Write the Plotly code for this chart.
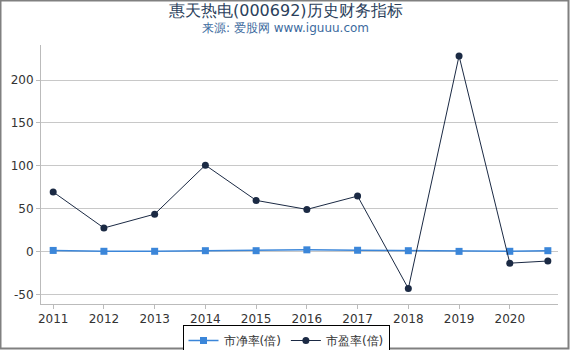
import plotly.graph_objects as go

years = [2011, 2012, 2013, 2014, 2015, 2016, 2017, 2018, 2019, 2020, 2020.75]
pb = [1.8, 0.8, 0.8, 1.5, 1.5, 2.5, 2.0, 1.5, 0.7, 0.8, 1.5]
pe = [69.8, 27.9, 44.0, 101.0, 60.0, 49.5, 65.0, -42.5, 228.0, -13.0, -10.5]
tick_years = [2011, 2012, 2013, 2014, 2015, 2016, 2017, 2018, 2019, 2020]
y_ticks = [-50, 0, 50, 100, 150, 200]
y_tick_text = ["-50", "0", "50", "100", "150", "200"]

L, R, T, B = 41, 12, 45, 46
W, H = 570, 350
pw, ph = W - L - R, H - T - B

fig = go.Figure()
fig.add_trace(go.Scatter(
    x=years, y=pb, name="市净率(倍)", mode="lines+markers",
    line=dict(color="#3b86d9", width=1.5),
    marker=dict(symbol="square", size=7, color="#3b86d9"),
))
fig.add_trace(go.Scatter(
    x=years, y=pe, name="市盈率(倍)", mode="lines+markers",
    line=dict(color="#1b2a44", width=1),
    marker=dict(symbol="circle", size=7, color="#1b2a44"),
))

fig.update_layout(
    width=W, height=H,
    margin=dict(l=L, r=R, t=T, b=B, autoexpand=False),
    paper_bgcolor="white", plot_bgcolor="white",
    font=dict(family="DejaVu Sans", size=12, color="#333333"),
    showlegend=True,
    legend=dict(
        orientation="h", xref="container", yref="container",
        x=286 / W, xanchor="center",
        y=1 - 325 / H, yanchor="top",
        bordercolor="#000000", borderwidth=1,
        font=dict(size=12, color="#333333"),
        itemwidth=30, tracegroupgap=0,
    ),
    xaxis=dict(
        range=[2010.76, 2020.95], tickmode="array", tickvals=tick_years,
        ticktext=[str(y) for y in tick_years],
        showgrid=False, showline=True, linecolor="#bbbbbb", linewidth=1,
        ticks="outside", ticklen=4, tickcolor="#bbbbbb",
        zeroline=False, tickfont=dict(size=12, color="#333333"),
    ),
    yaxis=dict(
        range=[-60.5, 240.7], tickmode="array", tickvals=y_ticks,
        ticktext=y_tick_text,
        showgrid=True, gridcolor="#c8c8c8", gridwidth=1,
        showline=True, linecolor="#bbbbbb", linewidth=1,
        ticks="outside", ticklen=4, tickcolor="#bbbbbb",
        zeroline=False, tickfont=dict(size=12, color="#333333"),
    ),
    annotations=[
        dict(text="惠天热电(000692)历史财务指标", xref="paper", yref="paper",
             x=(285 - L) / pw, y=(H - B - 10) / ph, xanchor="center", yanchor="middle",
             showarrow=False, font=dict(size=16, color="#2b3f5c", family="DejaVu Sans")),
        dict(text="来源: 爱股网 www.iguuu.com", xref="paper", yref="paper",
             x=(285 - L) / pw, y=(H - B - 28) / ph, xanchor="center", yanchor="middle",
             showarrow=False, font=dict(size=12, color="#3c6a9e", family="DejaVu Sans")),
    ],
    shapes=[
        dict(type="rect", xref="paper", yref="paper",
             x0=(0.5 - L) / pw, x1=(568.5 - L) / pw,
             y0=(H - B - 348.5) / ph, y1=(H - B - 0.5) / ph,
             line=dict(color="#808080", width=2), fillcolor="rgba(0,0,0,0)", layer="above"),
    ],
)

fig.write_html("out.html")
